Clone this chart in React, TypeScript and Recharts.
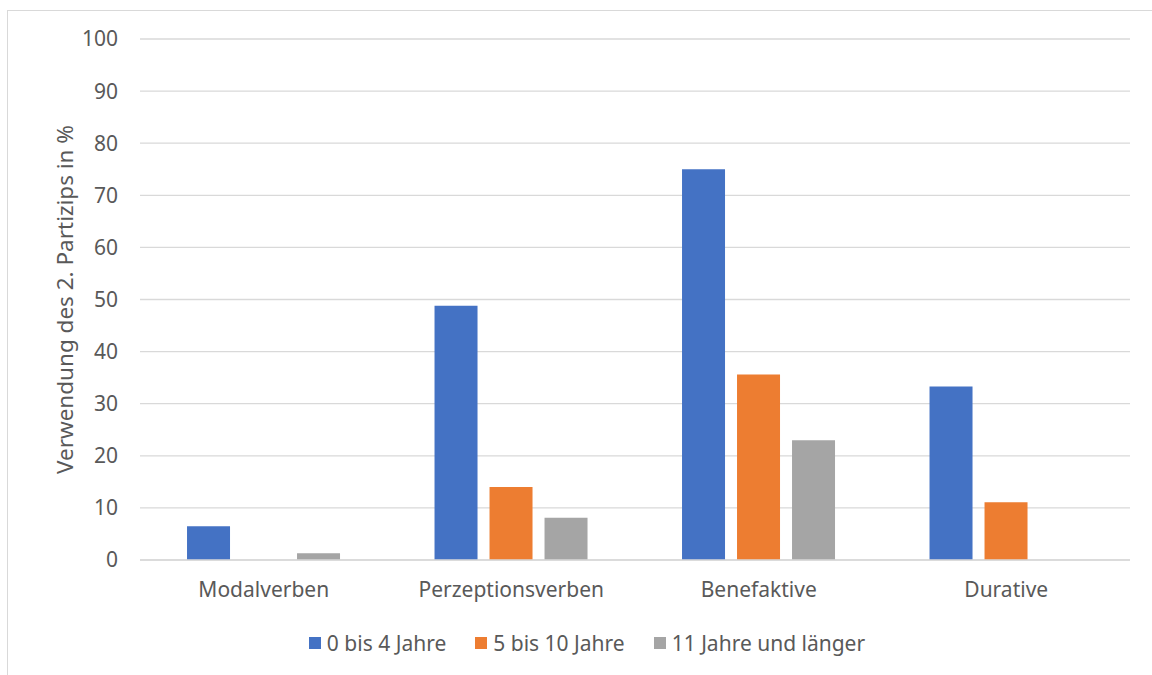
import { BarChart, Bar, XAxis, YAxis, CartesianGrid, Legend } from 'recharts'

const categories = ['Modalverben', 'Perzeptionsverben', 'Benefaktive', 'Durative']
const seriesNames = ['0 bis 4 Jahre', '5 bis 10 Jahre', '11 Jahre und länger']
const youngValues = [6.5, 48.8, 75, 33.3]
const middleValues = [0, 14, 35.6, 11.1]
const olderValues = [1.3, 8.1, 23, 0]
const yTicks = [0, 10, 20, 30, 40, 50, 60, 70, 80, 90, 100]

const colors = ['#4472C4', '#ED7D31', '#A5A5A5']
const textColor = '#595959'
const font = '"Noto Sans", "Open Sans", sans-serif'

const data = categories.map((name, i) => ({
  name,
  young: youngValues[i],
  middle: middleValues[i],
  older: olderValues[i],
}))

const keys = ['young', 'middle', 'older']

const LegendContent = () => (
  <div
    style={{
      display: 'flex',
      justifyContent: 'center',
      alignItems: 'center',
      paddingLeft: 22,
      height: 30,
      fontFamily: font,
      fontSize: 21,
      color: textColor,
    }}
  >
    {seriesNames.map((s, i) => (
      <div key={s} style={{ display: 'flex', alignItems: 'center', marginRight: i < 2 ? 29 : 0 }}>
        <span style={{ width: 12, height: 12, background: colors[i], display: 'inline-block', marginRight: 6 }} />
        <span>{s}</span>
      </div>
    ))}
  </div>
)

const YLabel = ({ viewBox }: { viewBox?: { x: number; y: number; width: number; height: number } }) => {
  if (!viewBox) return null
  const cx = 64
  const cy = viewBox.y + viewBox.height / 2
  return (
    <text
      x={cx}
      y={cy}
      transform={`rotate(-90 ${cx} ${cy})`}
      textAnchor="middle"
      dominantBaseline="central"
      fill={textColor}
      fontSize={22.5}
      fontFamily={font}
    >
      Verwendung des 2. Partizips in %
    </text>
  )
}

export default function App() {
  return (
    <div style={{ position: 'absolute', left: 0, top: 0, width: 1152, height: 675, background: '#fff' }}>
      <div
        style={{
          position: 'absolute',
          left: 7,
          top: 10,
          width: 1160,
          height: 680,
          borderLeft: '1.5px solid #d9d9d9',
          borderTop: '1.5px solid #d9d9d9',
        }}
      />
      <div style={{ position: 'absolute', left: 0, top: 0 }}>
        <BarChart
          width={1152}
          height={675}
          data={data}
          margin={{ top: 39, right: 22, left: 0, bottom: 55 }}
          barCategoryGap="19%"
          barGap={12}
        >
          <CartesianGrid vertical={false} stroke="#d9d9d9" strokeWidth={1.3} />
          <XAxis
            dataKey="name"
            axisLine={{ stroke: '#d9d9d9', strokeWidth: 1.3 }}
            tickLine={false}
            tickSize={0}
            tickMargin={22}
            height={30}
            tick={{ fill: textColor, fontSize: 21, fontFamily: font }}
          />
          <YAxis
            width={140}
            domain={[0, 100]}
            ticks={yTicks}
            axisLine={false}
            tickLine={false}
            tickSize={0}
            tickMargin={22}
            tick={{ fill: textColor, fontSize: 21, fontFamily: font }}
            label={<YLabel />}
          />
          <Legend
            verticalAlign="bottom"
            content={<LegendContent />}
            wrapperStyle={{ bottom: 17, left: 0, width: 1152 }}
          />
          {keys.map((k, i) => (
            <Bar key={k} dataKey={k} name={seriesNames[i]} fill={colors[i]} isAnimationActive={false} />
          ))}
        </BarChart>
      </div>
    </div>
  )
}
